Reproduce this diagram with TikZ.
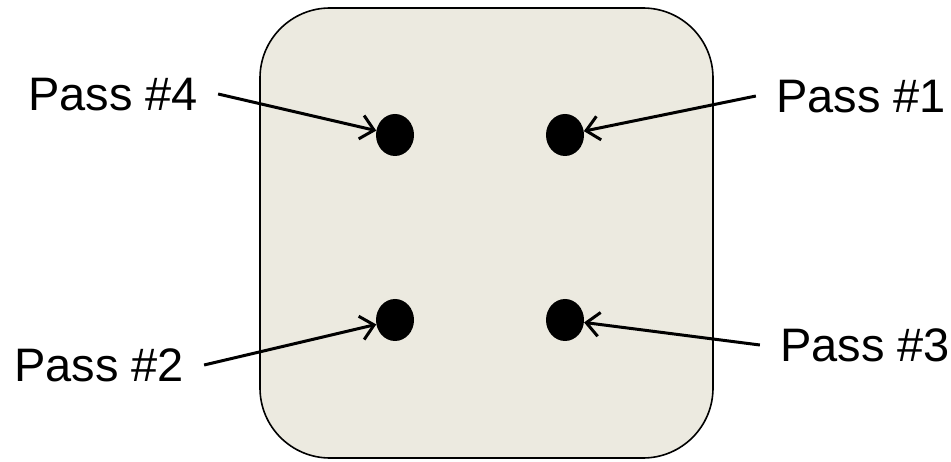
\documentclass[tikz,border=0pt]{standalone}
\usepackage{fontspec}
\setmainfont{Liberation Sans}
\usetikzlibrary{arrows.meta, shapes.geometric}
\definecolor{BoxFill}{RGB}{236,234,224}

\begin{document}
\begin{tikzpicture}[x=1pt, y=-1pt,
    board/.style={draw=black, line width=1.6pt, fill=BoxFill, rounded corners=70pt},
    hole/.style={ellipse, fill=black, minimum width=38pt, minimum height=42pt, inner sep=0pt},
    pass/.style={font=\fontsize{47}{50}\selectfont, inner xsep=20pt, inner ysep=0pt,
                 text height=34pt, text depth=0pt},
    ptr/.style={line width=3pt, -{Straight Barb[length=13pt, width=24pt, line width=3pt]}}
  ]
  \useasboundingbox (0,0) rectangle (951,462);
  % board
  \draw[board] (260,8) rectangle (713,458);
  % holes
  \node[hole] (h4) at (395,135) {};
  \node[hole] (h1) at (565,135) {};
  \node[hole] (h2) at (395,320) {};
  \node[hole] (h3) at (565,320) {};
  % labels
  \node[pass] (p4) at (113,94) {Pass \#4};
  \node[pass] (p1) at (861,96) {Pass \#1};
  \node[pass] (p2) at (99,365) {Pass \#2};
  \node[pass] (p3) at (865,345) {Pass \#3};
  % arrows
  \draw[ptr] (p4.east) -- (h4);
  \draw[ptr] (p1.west) -- (h1);
  \draw[ptr] (p2.east) -- (h2);
  \draw[ptr] (p3.west) -- (h3);
\end{tikzpicture}
\end{document}
